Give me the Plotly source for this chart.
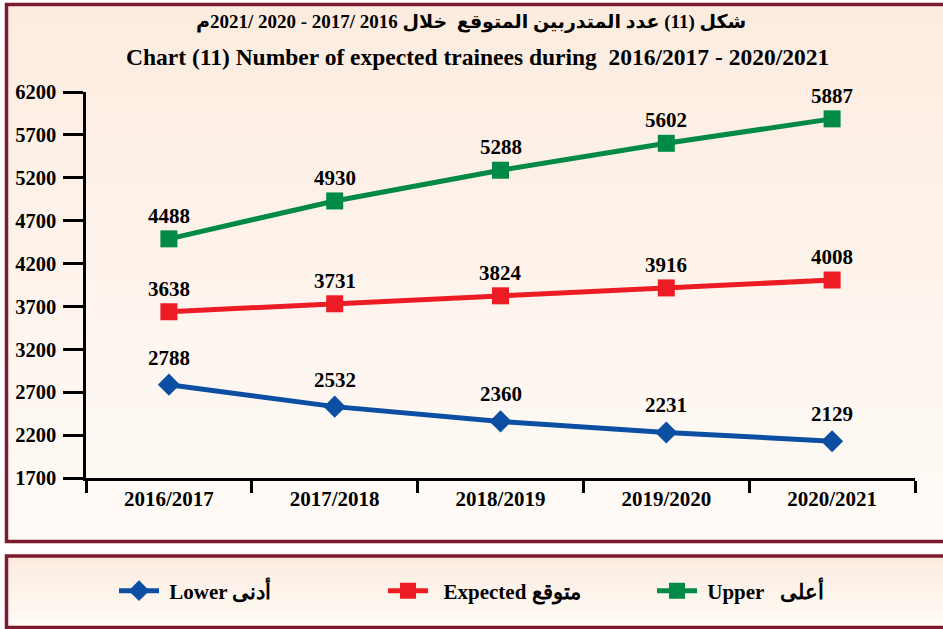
import plotly.graph_objects as go

categories = ["2016/2017", "2017/2018", "2018/2019", "2019/2020", "2020/2021"]
lower = [2788, 2532, 2360, 2231, 2129]
expected = [3638, 3731, 3824, 3916, 4008]
upper = [4488, 4930, 5288, 5602, 5887]
y_ticks = [1700, 2200, 2700, 3200, 3700, 4200, 4700, 5200, 5700, 6200]

series_names = [" Lower أدنى", "  Expected متوقع", " Upper   أعلى"]
series_colors = ["#0B4EA2", "#ED1C24", "#008A45"]
series_symbols = ["diamond", "square", "square"]

W, H = 943, 629
L, R, T, B = 86, 28, 92, 151
PW, PH = W - L - R, H - T - B

def px_x(px):
    return (px - L) / PW

def px_y(py):
    return (H - B - py) / PH

FONT = "Liberation Serif, Times New Roman, DejaVu Serif, serif"
AFONT = "Liberation Serif, DejaVu Sans, Noto Sans, sans-serif"
MAROON = "#7D1A2D"

fig = go.Figure()
all_series = [lower, expected, upper]
for vals, name, col, sym in zip(all_series, series_names, series_colors, series_symbols):
    fig.add_trace(go.Scatter(
        x=categories, y=vals, name=name, mode="lines+markers",
        line=dict(color=col, width=5),
        marker=dict(color=col, size=17, symbol=sym),
    ))

annotations = []
for vals, sym in zip(all_series, series_symbols):
    shift = 27 if sym == "diamond" else 23
    for c, v in zip(categories, vals):
        annotations.append(dict(
            x=c, y=v, xref="x", yref="y", text=str(v), showarrow=False,
            yshift=shift, font=dict(family=FONT, size=21, color="black", weight="bold"),
        ))

annotations.append(dict(
    x=px_x(471), y=px_y(22), xref="paper", yref="paper", showarrow=False,
    text="شكل (11) عدد المتدربين المتوقع  خلال 2016 /2017 - 2020 /2021م",
    font=dict(family=AFONT, size=19, color="black", weight="bold"),
    xanchor="center", yanchor="middle",
))
annotations.append(dict(
    x=px_x(477), y=px_y(57), xref="paper", yref="paper", showarrow=False,
    text="Chart (11) Number of expected trainees during  2016/2017 - 2020/2021",
    font=dict(family=FONT, size=23.5, color="black", weight="bold"),
    xanchor="center", yanchor="middle",
))

shapes = []
n = 24
top0, bot0 = 4, 543
c_top = (252, 236, 224)
c_bot = (255, 251, 247)
for i in range(n):
    y0 = top0 + (bot0 - top0) * i / n
    y1 = top0 + (bot0 - top0) * (i + 1) / n
    t = i / (n - 1)
    col = tuple(round(a + (b - a) * t) for a, b in zip(c_top, c_bot))
    shapes.append(dict(type="rect", xref="paper", yref="paper", layer="below",
                       x0=px_x(5), x1=px_x(960), y0=px_y(y1 + 0.5), y1=px_y(y0),
                       fillcolor="rgb(%d,%d,%d)" % col, line=dict(width=0)))
top1, bot1 = 555, 630
for i in range(8):
    y0 = top1 + (bot1 - top1) * i / 8
    y1 = top1 + (bot1 - top1) * (i + 1) / 8
    t = i / 7
    col = tuple(round(a + (b - a) * t) for a, b in zip(c_top, c_bot))
    shapes.append(dict(type="rect", xref="paper", yref="paper", layer="below",
                       x0=px_x(5), x1=px_x(960), y0=px_y(y1 + 0.5), y1=px_y(y0),
                       fillcolor="rgb(%d,%d,%d)" % col, line=dict(width=0)))
shapes.append(dict(type="rect", xref="paper", yref="paper", layer="below",
                   x0=px_x(6.5), x1=px_x(960), y0=px_y(541.5), y1=px_y(4.5),
                   line=dict(color=MAROON, width=3.5)))
shapes.append(dict(type="rect", xref="paper", yref="paper", layer="below",
                   x0=px_x(6.5), x1=px_x(960), y0=px_y(627.5), y1=px_y(556),
                   line=dict(color=MAROON, width=3.5)))

fig.update_layout(
    width=W, height=H,
    margin=dict(l=L, r=R, t=T, b=B),
    paper_bgcolor="white",
    plot_bgcolor="rgba(0,0,0,0)",
    showlegend=True,
    legend=dict(
        orientation="h", x=px_x(114), y=px_y(591), xanchor="left", yanchor="middle",
        bgcolor="rgba(0,0,0,0)", entrywidth=214, entrywidthmode="pixels",
        font=dict(family=FONT, size=21, color="black", weight="bold"),
        traceorder="normal", itemwidth=40,
    ),
    annotations=annotations,
    shapes=shapes,
    xaxis=dict(
        type="category", range=[-0.5, 4.5], showgrid=False, zeroline=False,
        showline=True, linecolor="black", linewidth=2.5,
        ticks="outside", tickson="boundaries", ticklen=12, tickwidth=2.5, tickcolor="black",
        tickfont=dict(family=FONT, size=21, color="black", weight="bold"),
    ),
    yaxis=dict(
        range=[1700, 6200], tickvals=y_ticks, showgrid=False, zeroline=False,
        showline=True, linecolor="black", linewidth=2.5,
        ticks="outside", ticklen=20, tickwidth=2.5, tickcolor="black",
        ticklabelstandoff=3,
        tickfont=dict(family=FONT, size=20.5, color="black", weight="bold"),
    ),
)

fig.write_html("out.html", post_script="document.body.style.margin='0';",
               config={"displayModeBar": False})
